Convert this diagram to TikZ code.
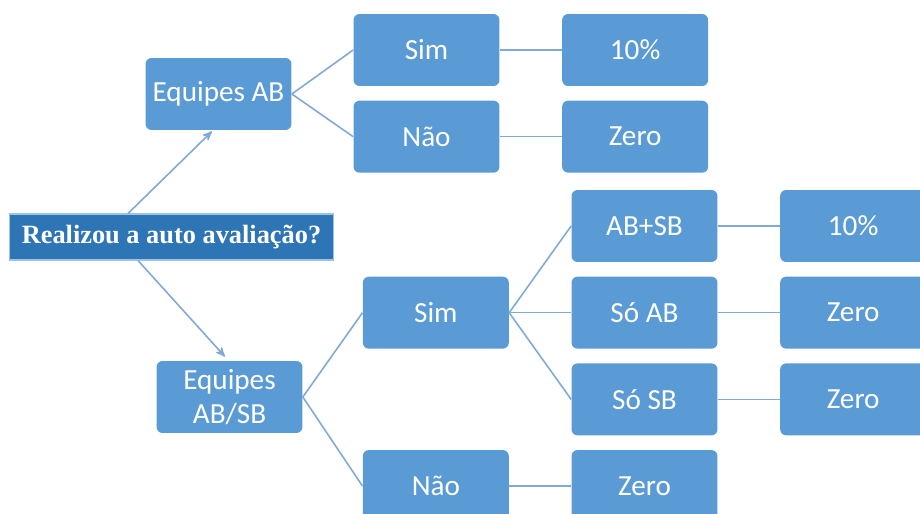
\documentclass[tikz,border=0pt]{standalone}
\usepackage{fontspec}
\setmainfont{Carlito}
\newfontfamily\titlefont{Liberation Serif}
\usetikzlibrary{arrows,positioning}

\definecolor{boxblue}{HTML}{5B9BD5}
\definecolor{rootblue}{HTML}{2E75B6}
\definecolor{edgeblue}{HTML}{7FA9D9}
\definecolor{rimblue}{HTML}{9DC3E6}

\tikzset{
  choice/.style={rectangle,rounded corners=0.12cm,fill=boxblue,text=white,
    minimum width=2.92cm,minimum height=1.44cm,align=center,
    font=\fontsize{16.6}{19.5}\selectfont},
  question/.style={rectangle,fill=rootblue,draw=rimblue,line width=0.6pt,text=white,
    minimum width=6.5cm,minimum height=0.92cm,
    font=\titlefont\bfseries\fontsize{15}{17}\selectfont},
  branch/.style={-,draw=edgeblue,line width=0.9pt},
  lead/.style={->,>=stealth',draw=edgeblue,line width=0.9pt}
}

\begin{document}
\begin{tikzpicture}[x=0.02cm,y=-0.02cm,node distance=0.28cm and 1.24cm]
  \useasboundingbox (0,0) rectangle (920,514);
  \clip (0,0) rectangle (920,514);

  % question
  \node[question] (ask) at (171.5,237) {Realizou a auto avalia\c{c}\~ao?};

  % teams AB
  \node[choice] (eqA)  at (218.5,94) {Equipes AB};
  \node[choice] (simA) at (426.5,50) {Sim};
  \node[choice] (naoA) [below=of simA] {N\~ao};
  \node[choice] (resA1) [right=of simA] {10\%};
  \node[choice] (resA2) [right=of naoA] {Zero};

  % teams AB/SB
  \node[choice] (eqB)  at (229.5,397) {Equipes\\AB/SB};
  \node[choice] (abSB) at (644.5,226) {AB+SB};
  \node[choice] (soAB) [below=of abSB] {S\'o AB};
  \node[choice] (soSB) [below=of soAB] {S\'o SB};
  \node[choice] (resB4) [below=of soSB] {Zero};
  \node[choice] (simB) [left=of soAB] {Sim};
  \node[choice] (naoB) [left=of resB4] {N\~ao};
  \node[choice] (resB1) [right=of abSB] {10\%};
  \node[choice] (resB2) [right=of soAB] {Zero};
  \node[choice] (resB3) [right=of soSB] {Zero};

  \draw[lead] ([xshift=-0.87cm]ask.north) -- ([xshift=-0.13cm,yshift=-0.02cm]eqA.south);
  \draw[lead] ([xshift=-0.67cm]ask.south) -- ([xshift=-0.09cm,yshift=0.08cm]eqB.north);

  \path[branch]
    (eqA.east) edge (simA.west)
    (eqA.east) edge (naoA.west)
    (simA.east) edge (resA1.west)
    (naoA.east) edge (resA2.west)
    (eqB.east) edge (simB.west)
    (eqB.east) edge (naoB.west)
    (simB.east) edge (abSB.west)
    (simB.east) edge (soAB.west)
    (simB.east) edge (soSB.west)
    (naoB.east) edge (resB4.west)
    (abSB.east) edge (resB1.west)
    (soAB.east) edge (resB2.west)
    (soSB.east) edge (resB3.west);
\end{tikzpicture}
\end{document}
